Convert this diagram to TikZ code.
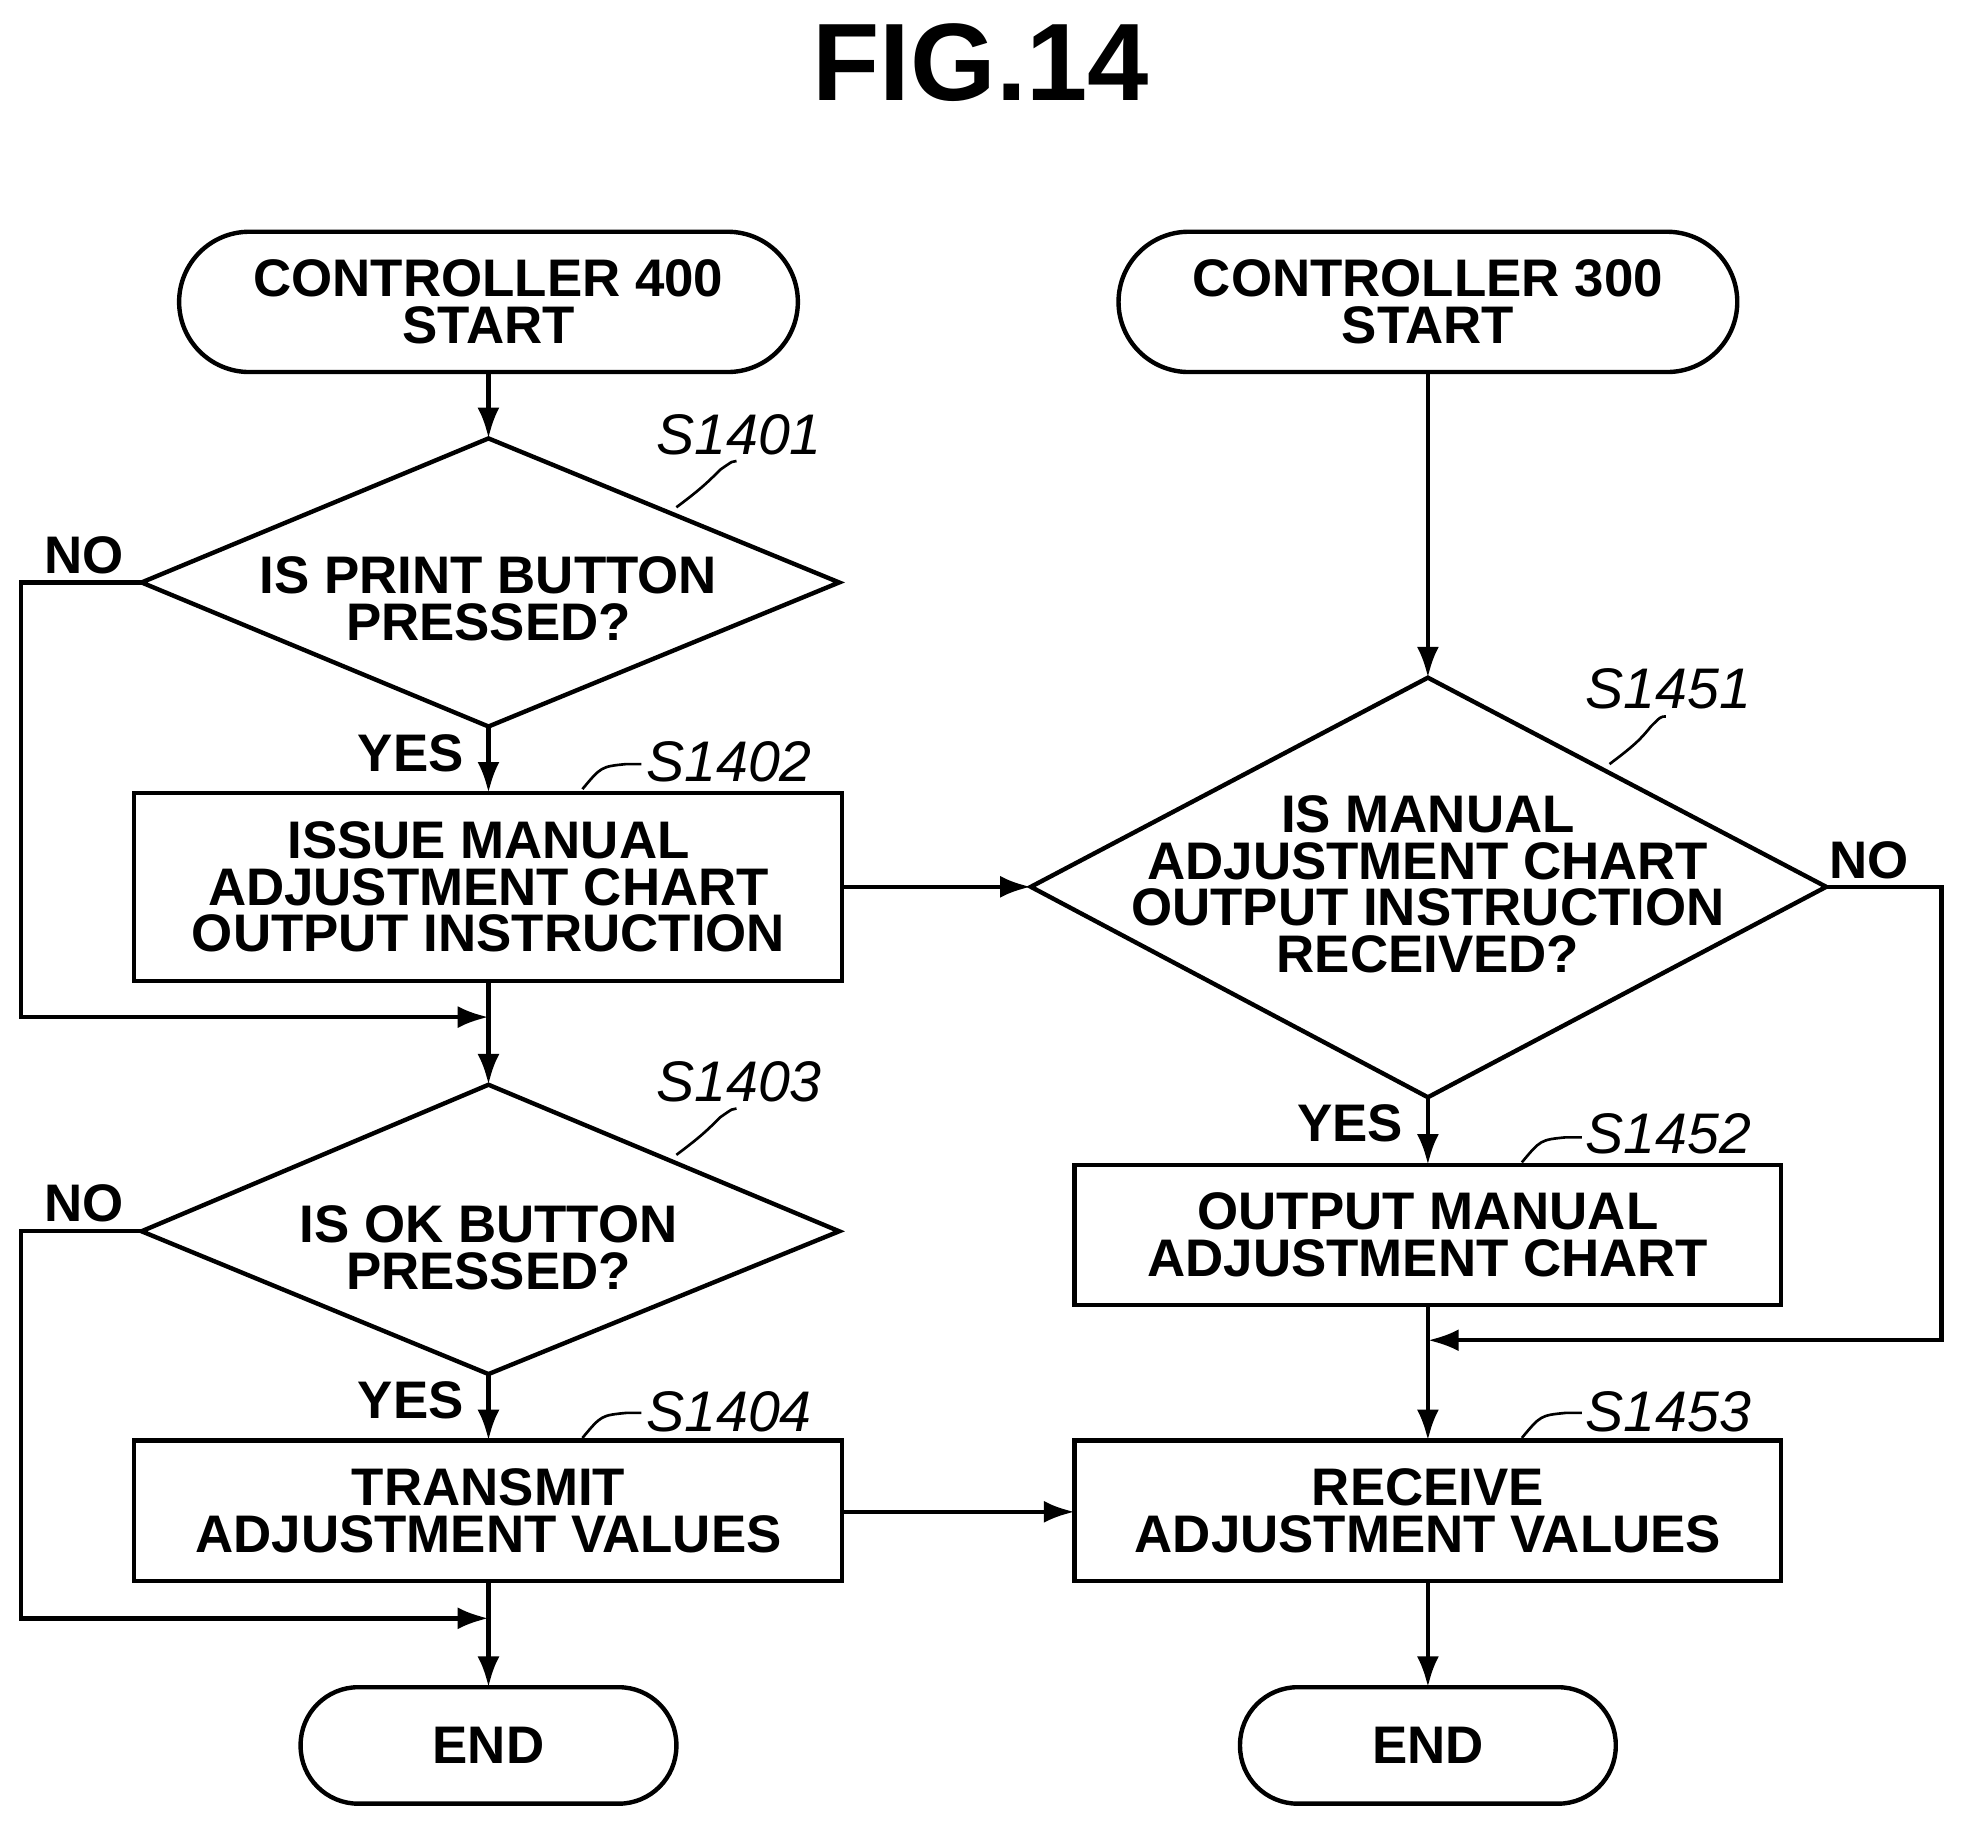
\documentclass[tikz,border=0pt]{standalone}
\usepackage{fontspec}
\setmainfont{Liberation Sans}
\usetikzlibrary{shapes.geometric,arrows.meta}
\begin{document}
\begin{tikzpicture}[x=0.01cm,y=-0.01cm,
  every node/.style={font=\fontsize{12}{10.6}\selectfont\bfseries, align=center, inner sep=0},
  ln/.style={line width=1pt},
  ar/.style={ln,-{Latex[length=7pt,width=5pt]}},
  lbl/.style={font=\fontsize{13}{13}\selectfont\itshape},
]
\useasboundingbox (0,0) rectangle (1568,1459);
\node[font=\fontsize{25}{25}\selectfont\bfseries] (title) at (783,50) {FIG.14};
% terminals
\draw[ln,rounded corners=0.56cm] (143,185) rectangle (637,297);
\node (s1) at (390,241) {CONTROLLER 400\\START};
\draw[ln,rounded corners=0.56cm] (893,185) rectangle (1387,297);
\node (s2) at (1140,241) {CONTROLLER 300\\START};
\draw[ln,rounded corners=0.46cm] (240,1347) rectangle (540,1440);
\node (e1) at (390,1393) {END};
\draw[ln,rounded corners=0.46cm] (990,1347) rectangle (1290,1440);
\node (e2) at (1140,1393) {END};
\coordinate (s1b) at (390,297); \coordinate (s2b) at (1140,297);
\coordinate (e1t) at (390,1347); \coordinate (e2t) at (1140,1347);
% diamonds
\draw[ln] (113,465) coordinate (d1l) -- (390,350) coordinate (d1t) -- (670,465) coordinate (d1r) -- (390,580) coordinate (d1b) -- cycle;
\node (d1) at (390,478) {IS PRINT BUTTON\\PRESSED?};
\draw[ln] (113,983) coordinate (d3l) -- (390,866) coordinate (d3t) -- (670,983) coordinate (d3r) -- (390,1097) coordinate (d3b) -- cycle;
\node (d3) at (390,996) {IS OK BUTTON\\PRESSED?};
\draw[ln] (823,708) coordinate (d5l) -- (1140,541) coordinate (d5t) -- (1458,708) coordinate (d5r) -- (1140,876) coordinate (d5b) -- cycle;
\node (d5) at (1140,706) {IS MANUAL\\ADJUSTMENT CHART\\OUTPUT INSTRUCTION\\RECEIVED?};
% boxes
\draw[ln] (107,633) rectangle (672,783);
\node (b2) at (390,708) {ISSUE MANUAL\\ADJUSTMENT CHART\\OUTPUT INSTRUCTION};
\coordinate (b2t) at (390,633); \coordinate (b2b) at (390,783); \coordinate (b2r) at (672,708);
\draw[ln] (107,1150) rectangle (672,1262);
\node (b4) at (390,1206) {TRANSMIT\\ADJUSTMENT VALUES};
\coordinate (b4t) at (390,1150); \coordinate (b4b) at (390,1262); \coordinate (b4r) at (672,1207);
\draw[ln] (858,930) rectangle (1422,1042);
\node (b52) at (1140,986) {OUTPUT MANUAL\\ADJUSTMENT CHART};
\coordinate (b52t) at (1140,930); \coordinate (b52b) at (1140,1042);
\draw[ln] (858,1150) rectangle (1422,1262);
\node (b53) at (1140,1206) {RECEIVE\\ADJUSTMENT VALUES};
\coordinate (b53t) at (1140,1150); \coordinate (b53b) at (1140,1262); \coordinate (b53l) at (858,1207);
% labels
\node[lbl] (l1) at (590,347) {S1401};
\draw[ln,line width=0.6pt] (540,405) .. controls (560,390) and (565,385) .. (575,375) .. controls (585,368) .. (588,368);
\node[lbl] (l2) at (582,608) {S1402};
\draw[ln,line width=0.6pt] (465,630) .. controls (480,612) .. (500,610) -- (512,610);
\node[lbl] (l3) at (590,864) {S1403};
\draw[ln,line width=0.6pt] (540,922) .. controls (560,907) and (565,902) .. (575,892) .. controls (585,885) .. (588,885);
\node[lbl] (l4) at (582,1127) {S1404};
\draw[ln,line width=0.6pt] (465,1148) .. controls (480,1130) .. (500,1128) -- (512,1128);
\node[lbl] (l5) at (1332,550) {S1451};
\draw[ln,line width=0.6pt] (1285,610) .. controls (1305,595) and (1310,590) .. (1318,580) .. controls (1326,572) .. (1330,572);
\node[lbl] (l6) at (1332,905) {S1452};
\draw[ln,line width=0.6pt] (1215,928) .. controls (1230,910) .. (1250,908) -- (1263,908);
\node[lbl] (l7) at (1332,1127) {S1453};
\draw[ln,line width=0.6pt] (1215,1148) .. controls (1230,1130) .. (1250,1128) -- (1263,1128);
% yes/no
\node (n1) at (67,443) {NO};
\node (y1) at (328,601) {YES};
\node (n3) at (67,961) {NO};
\node (y3) at (328,1118) {YES};
\node (n5) at (1492,687) {NO};
\node (y5) at (1078,897) {YES};
% connectors
\draw[ar] (s1b) -- (d1t);
\draw[ar] (d1b) -- (b2t);
\draw[ar] (b2b) -- (d3t);
\draw[ar] (d1l) -- (17,465) -- (17,812) -- (390,812);
\draw[ar] (d3b) -- (b4t);
\draw[ar] (b4b) -- (e1t);
\draw[ar] (d3l) -- (17,983) -- (17,1292) -- (390,1292);
\draw[ar] (b2r) -- (d5l);
\draw[ar] (s2b) -- (d5t);
\draw[ar] (d5b) -- (b52t);
\draw[ar] (b52b) -- (b53t);
\draw[ar] (d5r) -- (1550,708) -- (1550,1070) -- (1140,1070);
\draw[ar] (b4r) -- (b53l);
\draw[ar] (b53b) -- (e2t);
\end{tikzpicture}
\end{document}
